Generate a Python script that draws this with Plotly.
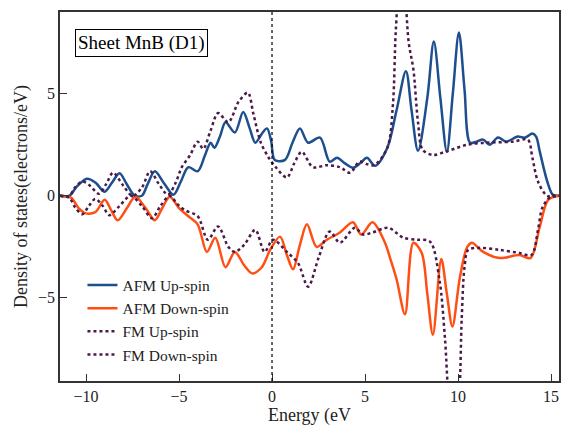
import plotly.graph_objects as go

# AFM up-spin
afm_up_E = [-11.4,-10.9,-10.5,-9.95,-9.5,-9.0,-8.6,-8.2,-7.8,-7.4,-7.0,-6.7,-6.3,-5.8,-5.3,-4.9,-4.5,-4.0,-3.6,-3.3,-3.1,-2.8,-2.5,-2.0,-1.55,-1.2,-0.9,-0.5,-0.27,-0.05,0.15,0.7,1.1,1.5,1.94,2.58,3.1,3.5,3.9,4.35,4.75,5.1,5.55,6.2,6.7,7.2,7.5,7.85,8.35,8.7,9.05,9.4,9.72,10.05,10.35,10.65,11.0,11.35,11.7,12.15,12.6,13.2,13.6,14.0,14.2,14.4,14.8,15.1,15.43]
afm_up_D = [0,0.0,0.45,0.83,0.65,0.2,0.65,1.1,0.55,0.02,0.0,0.55,1.2,0.6,0.05,0.7,1.4,1.2,2.0,2.6,2.35,2.9,3.6,3.1,4.1,3.3,2.6,3.1,3.3,2.7,1.75,1.76,2.6,3.3,2.6,2.85,1.67,1.86,1.6,1.37,1.6,1.86,1.47,2.35,4.2,6.1,4.2,2.2,4.8,7.55,4.8,2.15,5.0,8.0,5.2,2.6,2.65,2.75,2.5,2.85,2.65,2.9,2.85,3.05,2.9,2.15,0.7,0.05,0]

# AFM down-spin
afm_dn_E = [-11.4,-10.8,-10.4,-10.05,-9.5,-9.0,-8.65,-8.3,-7.8,-7.35,-6.8,-6.3,-5.9,-5.5,-5.0,-4.5,-4.0,-3.5,-3.05,-2.5,-2.0,-1.5,-1.07,-0.55,-0.1,0.43,0.8,1.13,1.5,1.88,2.4,2.95,3.65,4.35,4.8,5.4,6.05,6.4,6.7,7.15,7.6,8.05,8.35,8.65,9.1,9.4,9.7,10.1,10.5,10.75,11.35,12.25,13.3,13.9,14.4,14.85,15.43]
afm_dn_D = [0,-0.1,-0.6,-0.85,-0.8,-0.2,-0.7,-1.2,-0.6,-0.05,-0.6,-1.2,-0.6,-0.05,-0.6,-1.0,-1.4,-2.75,-2.05,-3.5,-2.75,-3.4,-3.8,-3.5,-2.65,-2.0,-2.9,-3.6,-2.4,-1.4,-2.5,-2.15,-1.8,-1.3,-1.9,-1.3,-2.25,-3.2,-4.1,-5.8,-2.3,-2.8,-4.8,-6.8,-3.1,-4.8,-6.4,-4.0,-2.5,-2.3,-2.75,-3.05,-2.9,-3.05,-1.5,-0.2,0]

# FM up-spin
fm_up_E = [-11.4,-10.9,-10.6,-10.2,-9.8,-9.3,-8.9,-8.55,-8.0,-7.5,-7.0,-6.55,-6.1,-5.6,-5.2,-4.85,-4.4,-4.0,-3.7,-3.3,-2.9,-2.35,-1.8,-1.3,-1.0,-0.6,-0.2,0.2,0.8,1.2,1.6,2.2,2.95,3.65,4.2,4.7,5.1,5.5,6.2,6.5,6.65,6.85,7.0,7.15,7.35,7.6,7.85,8.1,8.65,9.3,10.5,11.55,12.95,13.75,14.0,14.3,14.8,15.43]
fm_up_D = [0,0.0,0.4,0.7,0.5,0.1,0.6,1.13,0.5,0.0,0.4,1.2,0.6,0.05,0.6,1.4,2.0,2.65,2.3,3.2,4.05,3.6,4.6,5.05,4.0,2.6,1.9,1.4,0.9,1.6,2.15,1.4,1.5,1.4,1.13,1.67,1.55,1.5,2.35,4.46,8.0,10.5,11.0,10.0,7.5,6.2,3.6,2.25,2.0,2.15,2.5,2.6,2.65,2.75,1.86,0.7,0.0,0]

# FM down-spin
fm_dn_E = [-11.4,-10.9,-10.6,-10.2,-9.85,-9.5,-9.1,-8.75,-8.2,-7.6,-7.0,-6.45,-6.0,-5.5,-5.1,-4.7,-4.0,-3.45,-2.9,-2.35,-2.0,-1.5,-0.9,-0.4,0.05,0.8,1.4,1.94,2.5,3.1,3.65,4.45,4.9,5.4,6.25,7.05,7.8,8.5,9.0,9.3,9.55,9.8,10.05,10.2,10.35,10.55,11.2,12.25,13.3,13.95,14.3,14.55,15.05,15.43]
fm_dn_D = [0,-0.1,-0.55,-0.9,-0.5,-0.15,-0.5,-0.95,-0.5,0.0,-0.5,-1.1,-0.5,0.0,-0.4,-0.7,-1.0,-2.15,-1.5,-2.5,-2.75,-2.4,-1.67,-2.75,-2.15,-2.75,-3.3,-4.45,-3.05,-1.75,-2.3,-1.57,-1.9,-1.8,-1.57,-2.05,-2.15,-2.25,-4.1,-7.0,-10.5,-11.5,-10.0,-6.0,-3.5,-2.65,-2.55,-2.65,-2.8,-2.9,-1.67,-0.55,0,0]

x_ticks = [-10, -5, 0, 5, 10, 15]
y_ticks = [-5, 0, 5]

assert len(afm_up_E) == len(afm_up_D)
assert len(afm_dn_E) == len(afm_dn_D)
assert len(fm_up_E) == len(fm_up_D)
assert len(fm_dn_E) == len(fm_dn_D)

BLUE = "#1d4f8f"
ORANGE = "#ff4f14"
PURPLE = "#4a1a48"
FONT = "Liberation Serif"

fig = go.Figure()
fig.add_trace(go.Scatter(x=afm_up_E, y=afm_up_D, mode="lines", name="AFM Up-spin",
                         line=dict(color=BLUE, width=2.5, shape="spline", smoothing=0.9)))
fig.add_trace(go.Scatter(x=afm_dn_E, y=afm_dn_D, mode="lines", name="AFM Down-spin",
                         line=dict(color=ORANGE, width=2.5, shape="spline", smoothing=0.9)))
fig.add_trace(go.Scatter(x=fm_up_E, y=fm_up_D, mode="lines", name="FM Up-spin",
                         line=dict(color=PURPLE, width=2.5, dash="3px,3px", shape="spline", smoothing=0.9)))
fig.add_trace(go.Scatter(x=fm_dn_E, y=fm_dn_D, mode="lines", name="FM Down-spin",
                         line=dict(color=PURPLE, width=2.5, dash="3px,3px", shape="spline", smoothing=0.9)))

fig.add_vline(x=0, line=dict(color="black", width=1.2, dash="dot"))

fig.add_annotation(text="Sheet MnB (D1)", xref="paper", yref="paper", x=0.03, y=0.955,
                   xanchor="left", yanchor="top", showarrow=False,
                   font=dict(family=FONT, size=19, color="black"),
                   bordercolor="black", borderwidth=1, borderpad=2, bgcolor="white")

fig.update_xaxes(range=[-11.4, 15.43], tickvals=x_ticks, ticktext=["\u221210", "\u22125", "0", "5", "10", "15"],
                 ticks="inside", ticklen=7, tickcolor="#333", showline=True, linecolor="#333", linewidth=1.5,
                 mirror=True, showgrid=False, zeroline=False, automargin=False,
                 title=dict(text="Energy (eV", font=dict(family=FONT, size=18, color="#222"), standoff=8),
                 tickfont=dict(family=FONT, size=16, color="#222"))
fig.update_yaxes(range=[-9.07, 9.0], tickvals=y_ticks, ticktext=["\u22125", "0", "5"],
                 ticks="inside", ticklen=7, tickcolor="#333", showline=True, linecolor="#333", linewidth=1.5,
                 mirror=True, showgrid=False, zeroline=False, automargin=False,
                 title=dict(text="Density of states(electrons/eV)", font=dict(family=FONT, size=18, color="#222"), standoff=6),
                 tickfont=dict(family=FONT, size=16, color="#222"))

fig.update_layout(width=567, height=426, margin=dict(l=60, r=8, t=12, b=45),
                  plot_bgcolor="white", paper_bgcolor="white",
                  legend=dict(x=0.045, y=0.305, xanchor="left", yanchor="top", bgcolor="rgba(0,0,0,0)",
                              font=dict(family=FONT, size=15.5, color="#222"), tracegroupgap=0),
                  showlegend=True)

fig.write_html("out.html")
